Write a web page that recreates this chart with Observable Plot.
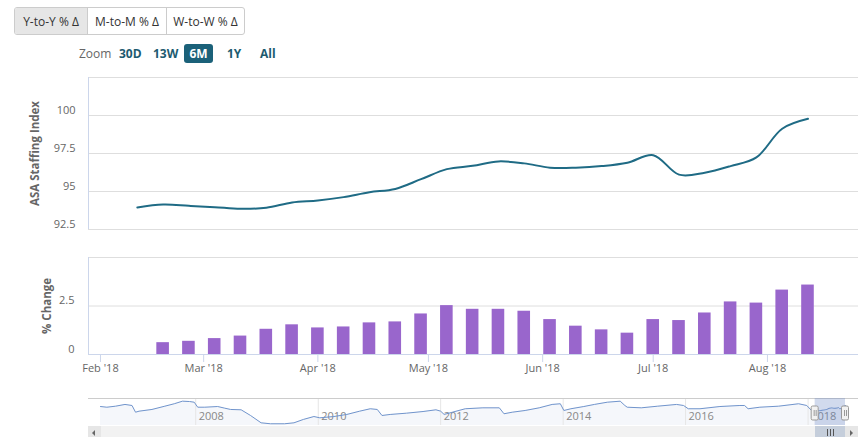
<!DOCTYPE html>
<html><head><meta charset="utf-8">
<script src="https://cdn.jsdelivr.net/npm/d3@7"></script>
<script src="https://cdn.jsdelivr.net/npm/@observablehq/plot@0.6"></script>
<style>
html,body{margin:0;padding:0;width:860px;height:437px;overflow:hidden;background:#fff;font-family:'Open Sans',sans-serif;}
.abs{position:absolute}
#grp{left:14px;top:7px;width:229px;height:26px;border:1px solid #cccccc;border-radius:3px;display:flex;overflow:hidden}
#grp div{display:flex;align-items:center;justify-content:center;font-size:12px;color:#333;height:26px}
.zl{top:45px;font-size:12px;line-height:18px;font-weight:bold;color:#1d5b70}
svg{overflow:visible}
</style></head>
<body>
<div id="grp" class="abs">
  <div style="width:72px;background:#e6e6e6;border-right:1px solid #cccccc">Y-to-Y % Δ</div>
  <div style="width:78px;border-right:1px solid #cccccc">M-to-M % Δ</div>
  <div style="width:77px">W-to-W % Δ</div>
</div>
<div class="abs" style="left:79px;top:45px;font-size:12px;line-height:18px;color:#666">Zoom</div>
<div class="abs zl" style="left:119px">30D</div>
<div class="abs zl" style="left:153px">13W</div>
<div class="abs zl" style="left:184px;width:29px;height:19px;top:44px;line-height:19px;text-align:center;background:#1b6179;color:#fff;border-radius:3px">6M</div>
<div class="abs zl" style="left:227px">1Y</div>
<div class="abs zl" style="left:260px">All</div>
<div id="top" class="abs" style="left:0;top:70px"></div>
<div id="bot" class="abs" style="left:0;top:245px"></div>
<div id="nav" class="abs" style="left:0;top:390px"></div>
<div id="sb"></div>
<script>
// ---- data ----
const lineDates = ["2018-02-11","2018-02-18","2018-02-25","2018-03-04","2018-03-11","2018-03-18","2018-03-25","2018-04-01","2018-04-08","2018-04-15","2018-04-22","2018-04-29","2018-05-06","2018-05-13","2018-05-20","2018-05-27","2018-06-03","2018-06-10","2018-06-17","2018-06-24","2018-07-01","2018-07-08","2018-07-15","2018-07-22","2018-07-29","2018-08-05","2018-08-12"];
const lineValues = [93.95,94.14,94.06,93.97,93.86,93.93,94.28,94.41,94.63,94.95,95.17,95.81,96.47,96.69,96.98,96.85,96.57,96.57,96.67,96.89,97.39,96.11,96.24,96.67,97.24,99.13,99.78];
const barDates = ["2018-02-18","2018-02-25","2018-03-04","2018-03-11","2018-03-18","2018-03-25","2018-04-01","2018-04-08","2018-04-15","2018-04-22","2018-04-29","2018-05-06","2018-05-13","2018-05-20","2018-05-27","2018-06-03","2018-06-10","2018-06-17","2018-06-24","2018-07-01","2018-07-08","2018-07-15","2018-07-22","2018-07-29","2018-08-05","2018-08-12"];
const barValues = [0.61,0.68,0.82,0.95,1.30,1.53,1.37,1.42,1.63,1.68,2.09,2.52,2.33,2.33,2.23,1.80,1.46,1.27,1.10,1.80,1.75,2.14,2.71,2.65,3.32,3.58];
const lineTicks = [92.5,95,97.5,100];
const lineTickLabels = ["92.5","95","97.5","100"];
const lineGrid = [92.5,95,97.5,100,102.5];
const barTicks = [0,2.5];
const barTickLabels = ["0","2.5"];
const barGrid = [2.5,5];
const monthTicks = ["2018-02-01","2018-03-01","2018-04-01","2018-05-01","2018-06-01","2018-07-01","2018-08-01"];
const monthLabels = ["Feb '18","Mar '18","Apr '18","May '18","Jun '18","Jul '18","Aug '18"];
const navDates = ["2006-06-12","2006-07-20","2006-09-10","2006-11-05","2006-12-17","2007-01-07","2007-01-28","2007-04-15","2007-07-01","2007-08-26","2007-10-14","2007-11-25","2007-12-23","2008-01-13","2008-02-24","2008-05-11","2008-06-22","2008-07-27","2008-09-28","2008-11-23","2009-01-25","2009-03-22","2009-06-14","2009-08-09","2009-10-04","2009-12-06","2010-01-10","2010-04-04","2010-06-20","2010-09-05","2010-11-07","2010-12-19","2011-01-16","2011-03-06","2011-06-12","2011-09-18","2011-12-04","2012-01-01","2012-01-22","2012-03-11","2012-05-27","2012-09-09","2012-12-16","2013-01-13","2013-03-03","2013-05-19","2013-08-11","2013-10-27","2013-12-15","2014-01-05","2014-02-16","2014-05-04","2014-07-06","2014-09-21","2014-12-07","2015-01-04","2015-01-18","2015-04-12","2015-07-19","2015-11-08","2015-12-20","2016-01-17","2016-03-27","2016-07-24","2016-11-20","2016-12-18","2017-01-08","2017-03-19","2017-07-09","2017-11-05","2017-12-24","2018-01-21"];
const navValues = [98.6,97.8,99.0,101.0,99.8,92.0,93.2,95.2,99.0,101.8,104.8,104.4,103.6,97.8,97.8,98.6,96.7,95.2,94.8,88.2,79.7,78.6,78.6,79.7,83.6,87.0,85.5,87.0,89.4,93.2,96.0,95.2,88.2,89.4,90.9,92.8,94.8,93.2,89.4,92.0,96.0,97.1,97.1,90.2,92.0,94.0,97.1,101.0,101.8,94.0,96.0,98.6,101.0,103.6,104.8,99.8,97.8,97.1,99.0,101.0,99.8,96.0,96.0,98.6,99.8,99.8,96.0,97.8,99.0,101.8,99.8,94.0];
const navYears = ["2008-01-01","2010-01-01","2012-01-01","2014-01-01","2016-01-01","2018-01-01"];
const navYearLabels = ["2008","2010","2012","2014","2016","2018"];
const selection = {start: "2018-02-12", end: "2018-08-12"};

// ---- build ----
const xDomain = [new Date("2018-01-28T18:00Z"), new Date("2018-08-25T17:00Z")];
const lineData = lineDates.map((d, i) => ({date: new Date(d), value: lineValues[i]}));
const barData = barDates.map((d, i) => ({date: new Date(d), value: barValues[i]}));
const labelOf = (ticks, labels) => v => labels[ticks.indexOf(v)];
const style = {fontFamily: "'Open Sans', sans-serif", fontSize: "11px", color: "#666", background: "transparent", overflow: "visible"};

const topChart = Plot.plot({
  width: 860, height: 170, marginLeft: 88, marginRight: 2, marginTop: 7, marginBottom: 11,
  style,
  x: {type: "utc", domain: xDomain, axis: null},
  y: {domain: [92.5, 102.5]},
  marks: [
    Plot.ruleY(lineGrid, {stroke: "#dedede"}),
    Plot.ruleX([xDomain[0]], {stroke: "#ccd6eb"}),
    Plot.line(lineData, {x: "date", y: "value", curve: "catmull-rom", stroke: "#1f6b85", strokeWidth: 2}),
    Plot.axisY(lineTicks, {tickSize: 0, tickPadding: 13, dy: -5, fill: "#666", label: null, fontSize: 11, tickFormat: labelOf(lineTicks, lineTickLabels)}),
    Plot.text(["ASA Staffing Index"], {text: d => d, frameAnchor: "left", textAnchor: "middle", dx: -53, rotate: -90, fontWeight: "bold", fill: "#666", fontSize: 11.5})
  ]
});
document.getElementById("top").appendChild(topChart);

const monthDates = monthTicks.map(d => new Date(d));
const botChart = Plot.plot({
  width: 860, height: 135, marginLeft: 88, marginRight: 2, marginTop: 12, marginBottom: 26,
  style,
  x: {type: "utc", domain: xDomain},
  y: {domain: [0, 5]},
  marks: [
    Plot.ruleY(barGrid, {stroke: "#dedede"}),
    Plot.rectY(barData, {x1: d => d3.utcHour.offset(d.date, -41), x2: d => d3.utcHour.offset(d.date, 41), y: "value", fill: "#9966cc"}),
    Plot.ruleY([0], {stroke: "#ccd6eb"}),
    Plot.ruleX([xDomain[0]], {stroke: "#ccd6eb"}),
    Plot.axisY(barTicks, {tickSize: 0, tickPadding: 14, dy: -5.5, fill: "#666", label: null, fontSize: 11, tickFormat: labelOf(barTicks, barTickLabels)}),
    Plot.axisX(monthDates, {tickSize: 8, tickPadding: 2, tickFormat: d => monthLabels[monthDates.findIndex(m => +m === +d)], stroke: "#ccd6eb", fill: "#666", label: null, fontSize: 11}),
    Plot.text(["% Change"], {text: d => d, frameAnchor: "left", textAnchor: "middle", dx: -41, rotate: -90, fontWeight: "bold", fill: "#666", fontSize: 11.5})
  ]
});
document.getElementById("bot").appendChild(botChart);

const navData = navDates.map((d, i) => ({date: new Date(d), value: navValues[i]})).concat(lineData);
const navY = [76.6, 107.9];
const sel = {start: new Date(selection.start), end: new Date(selection.end)};
const navChart = Plot.plot({
  width: 860, height: 47, marginLeft: 88, marginRight: 2, marginTop: 8, marginBottom: 12,
  style,
  x: {type: "utc", domain: [navData[0].date, navData[navData.length - 1].date], range: [100, 845], axis: null},
  y: {domain: navY, axis: null},
  marks: [
    Plot.areaY(navData, {x: "date", y: "value", fill: "#335cad", fillOpacity: 0.05, clip: true}),
    Plot.ruleX(navYears.map(d => new Date(d)), {stroke: "#e6e6e6"}),
    Plot.text(navYears.map((d, i) => ({date: new Date(d), label: navYearLabels[i]})), {x: "date", text: "label", frameAnchor: "bottom", dy: -6, dx: 3, textAnchor: "start", fill: "#888", fontSize: 11}),
    Plot.line(navData, {x: "date", y: "value", stroke: "#7094cc", strokeWidth: 1}),
    Plot.ruleY([navY[1]], {stroke: "#cccccc"}),
    Plot.rect([sel], {x1: "start", x2: "end", fill: "rgba(102,133,194,0.3)"}),
    Plot.rect([sel.start, sel.end], {x1: d => d, x2: d => d, insetLeft: -3.5, insetRight: -3.5, insetTop: 8, insetBottom: 5, fill: "#f2f2f2", stroke: "#999", rx: 1.5}),
    Plot.ruleX([sel.start, sel.end], {dx: -1, insetTop: 12, insetBottom: 9, stroke: "#999"}),
    Plot.ruleX([sel.start, sel.end], {dx: 1, insetTop: 12, insetBottom: 9, stroke: "#999"})
  ]
});
document.getElementById("nav").appendChild(navChart);

// scrollbar (positions from navigator scale)
const nx = navChart.scale("x");
const x0 = nx.apply(sel.start), x1 = nx.apply(sel.end);
const sb = document.getElementById("sb");
sb.innerHTML = `
<div class="abs" style="left:88px;top:426px;width:770px;height:14px;background:#f2f2f2"></div>
<div class="abs" style="left:88px;top:426px;width:13px;height:14px;background:#e6e6e6"></div>
<div class="abs" style="left:92px;top:430px;width:0;height:0;border-top:3px solid transparent;border-bottom:3px solid transparent;border-right:3px solid #666"></div>
<div class="abs" style="left:845px;top:426px;width:13px;height:14px;background:#e6e6e6"></div>
<div class="abs" style="left:850px;top:430px;width:0;height:0;border-top:3px solid transparent;border-bottom:3px solid transparent;border-left:3px solid #666"></div>
<div class="abs" style="left:${x0}px;top:426px;width:${x1 - x0}px;height:14px;background:#c5cedb"></div>
<div class="abs" style="left:${(x0 + x1) / 2 - 3}px;top:429px;width:1px;height:7px;background:#555"></div>
<div class="abs" style="left:${(x0 + x1) / 2}px;top:429px;width:1px;height:7px;background:#555"></div>
<div class="abs" style="left:${(x0 + x1) / 2 + 3}px;top:429px;width:1px;height:7px;background:#555"></div>`;
</script>
</body></html>
